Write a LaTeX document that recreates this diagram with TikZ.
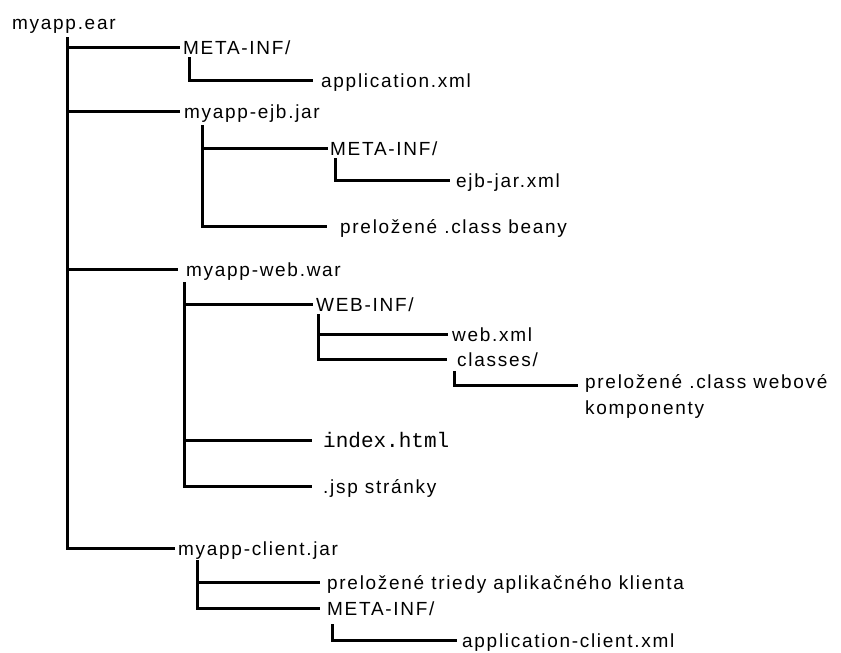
\documentclass[tikz,border=0pt]{standalone}
\usepackage{fontspec}
\setmainfont{Liberation Sans}[LetterSpace=9]
\setmonofont{Liberation Mono}
\tikzset{
  entry/.style={anchor=west,inner sep=0pt,text height=14pt,text depth=0pt,
    font=\fontsize{19}{25}\selectfont},
  branch/.style={line width=3pt},
}
\begin{document}
\begin{tikzpicture}[x=1pt,y=-1pt]
\useasboundingbox (0,0) rectangle (841,653);

% archive and its top level entries
\node[entry] (ear) at (12,22) {myapp.ear};
\coordinate (t-ear) at (67,37);

\node[entry] (metaa) at (183,47) {META-INF/};
\node[entry] (ejb) at (184,111) {myapp-ejb.jar};
\node[entry] (web) at (186,269) {myapp-web.war};
\node[entry] (client) at (178,548) {myapp-client.jar};

\draw[branch] (t-ear) |- ([xshift=-3pt]metaa.west);
\draw[branch] (t-ear) |- ([xshift=-4pt]ejb.west);
\draw[branch] (t-ear) |- ([xshift=-8pt]web.west);
\draw[branch] (t-ear) |- ([xshift=-3pt]client.west);

% META-INF
\coordinate (t-metaa) at (189,57);
\node[entry] (appxml) at (321,80) {application.xml};
\draw[branch] (t-metaa) |- ([xshift=-8pt]appxml.west);

% ejb module
\coordinate (t-ejb) at (202,125);
\node[entry] (metab) at (330,148) {META-INF/};
\node[entry] (beany) at (340,226) {preložené .class beany};
\draw[branch] (t-ejb) |- ([xshift=-2pt]metab.west);
\draw[branch] (t-ejb) |- ([xshift=-13pt]beany.west);

\coordinate (t-metab) at (335,158);
\node[entry] (ejbxml) at (456,180) {ejb-jar.xml};
\draw[branch] (t-metab) |- ([xshift=-6pt]ejbxml.west);

% web module
\coordinate (t-web) at (184,282);
\node[entry] (webinf) at (316,304) {WEB-INF/};
\node[entry,font=\ttfamily\fontsize{21}{24}\selectfont] (index) at (323,440) {index.html};
\node[entry] (jsp) at (323,486) {.jsp stránky};
\draw[branch] (t-web) |- ([xshift=-11pt]index.west);
\draw[branch] (t-web) |- ([xshift=-3pt]webinf.west);
\draw[branch] (t-web) |- ([xshift=-11pt]jsp.west);

\coordinate (t-webinf) at (318,314);
\node[entry] (webxml) at (452,334) {web.xml};
\node[entry] (classes) at (457,359) {classes/};
\draw[branch] (t-webinf) |- ([xshift=-4pt]webxml.west);
\draw[branch] (t-webinf) |- ([xshift=-10pt]classes.west);

\coordinate (t-classes) at (454,371);
\node[inner sep=0pt,anchor=north west,align=left,
  font=\fontsize{19}{26}\selectfont] (webove) at (585,374)
  {preložené .class webové\\komponenty};
\draw[branch] (t-classes) |- ([xshift=-7pt,yshift=-11pt]webove.north west);

% client module
\coordinate (t-client) at (197,560);
\node[entry] (triedy) at (327,582) {preložené triedy aplikačného klienta};
\node[entry] (metac) at (327,608) {META-INF/};
\draw[branch] (t-client) |- ([xshift=-7pt]triedy.west);
\draw[branch] (t-client) |- ([xshift=-7pt]metac.west);

\coordinate (t-metac) at (332,624);
\node[entry] (appclient) at (462,640) {application-client.xml};
\draw[branch] (t-metac) |- ([xshift=-5pt]appclient.west);
\end{tikzpicture}
\end{document}
